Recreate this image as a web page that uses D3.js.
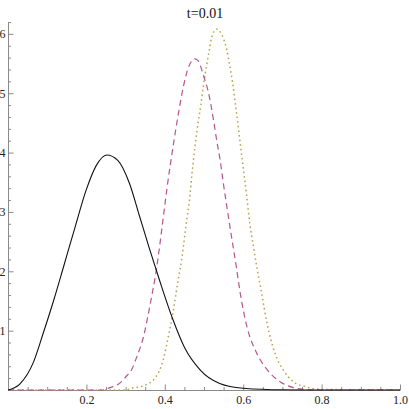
<!DOCTYPE html>
<html>
<head>
<meta charset="utf-8">
<script src="https://cdn.jsdelivr.net/npm/d3@7"></script>
<style>
  html, body { margin: 0; padding: 0; background: #fff; }
  svg { display: block; }
</style>
</head>
<body>
<div id="chart"></div>
<script>
// values
const title = "t=0.01";

const blackX = [0, 0.03, 0.065, 0.09, 0.116, 0.141, 0.17, 0.2, 0.225, 0.252, 0.28, 0.31, 0.335, 0.36, 0.388, 0.42, 0.45, 0.49, 0.54, 0.6, 0.7, 0.8, 1.0];
const blackY = [0, 0.1, 0.47, 0.96, 1.5, 2.06, 2.72, 3.38, 3.78, 3.96, 3.87, 3.48, 2.94, 2.4, 1.82, 1.2, 0.72, 0.34, 0.11, 0.03, 0.003, 0, 0];

const dashX = [0, 0.24, 0.26, 0.286, 0.303, 0.316, 0.328, 0.345, 0.362, 0.379, 0.396, 0.405, 0.422, 0.435, 0.447, 0.46, 0.477, 0.486, 0.498, 0.511, 0.524, 0.532, 0.541, 0.549, 0.558, 0.571, 0.583, 0.592, 0.609, 0.636, 0.66, 0.694, 0.728, 0.76, 0.8, 1.0];
const dashY = [0, 0, 0.04, 0.12, 0.24, 0.35, 0.55, 0.88, 1.42, 2.05, 2.9, 3.37, 4.14, 4.67, 5.1, 5.43, 5.58, 5.54, 5.31, 5.02, 4.56, 4.22, 3.88, 3.5, 3.1, 2.55, 2.05, 1.65, 1.08, 0.6, 0.35, 0.14, 0.04, 0.01, 0, 0];

const dotX = [0, 0.3, 0.316, 0.345, 0.375, 0.396, 0.409, 0.422, 0.434, 0.443, 0.456, 0.463, 0.469, 0.477, 0.486, 0.492, 0.498, 0.505, 0.513, 0.52, 0.532, 0.545, 0.558, 0.566, 0.573, 0.582, 0.592, 0.6, 0.609, 0.617, 0.626, 0.634, 0.647, 0.66, 0.681, 0.702, 0.728, 0.762, 0.8, 1.0];
const dotY = [0, 0, 0.03, 0.07, 0.2, 0.51, 0.9, 1.35, 1.85, 2.2, 2.87, 3.2, 3.62, 4.1, 4.55, 4.8, 5.11, 5.4, 5.71, 5.95, 6.08, 5.99, 5.73, 5.45, 5.17, 4.72, 4.18, 3.75, 3.26, 2.8, 2.42, 2.1, 1.63, 1.15, 0.62, 0.34, 0.14, 0.05, 0.01, 0];

const xMajor = [0.2, 0.4, 0.6, 0.8, 1.0];
const yMajor = [1, 2, 3, 4, 5, 6];

const width = 409;
const height = 409;
const margin = { top: 22, right: 9, bottom: 19, left: 8 };
const serif = "'Liberation Serif', 'DejaVu Serif', serif";

const svg = d3.select("#chart")
  .append("svg")
  .attr("width", width)
  .attr("height", height);

const x = d3.scaleLinear().domain([0, 1]).range([margin.left, width - margin.right]);
const y = d3.scaleLinear().domain([0, 6.2]).range([height - margin.bottom, margin.top]);

// minor ticks (no labels)
const xMinor = d3.range(0.05, 1.0001, 0.05).filter((v) => xMajor.every((m) => Math.abs(m - v) > 1e-6));
const yMinor = d3.range(0.2, 6.2001, 0.2).filter((v) => yMajor.every((m) => Math.abs(m - v) > 1e-6));

function styleAxis(g) {
  g.attr("font-family", serif).attr("font-size", 12);
  g.selectAll("path, line").attr("stroke", "#8a8a8a");
  g.selectAll("text").attr("fill", "#222");
}

svg.append("g")
  .attr("transform", `translate(0, ${y(0)})`)
  .call(d3.axisBottom(x).tickValues(xMinor).tickSize(-3).tickSizeOuter(0).tickFormat(""))
  .call(styleAxis);

svg.append("g")
  .attr("transform", `translate(0, ${y(0)})`)
  .call(d3.axisBottom(x).tickValues(xMajor).tickSize(-5.5).tickSizeOuter(0).tickPadding(5).tickFormat(d3.format(".1f")))
  .call((g) => g.select(".domain").remove())
  .call(styleAxis);

svg.append("g")
  .attr("transform", `translate(${x(0)}, 0)`)
  .call(d3.axisLeft(y).tickValues(yMinor).tickSize(-3).tickSizeOuter(0).tickFormat(""))
  .call(styleAxis);

svg.append("g")
  .attr("transform", `translate(${x(0)}, 0)`)
  .call(d3.axisLeft(y).tickValues(yMajor).tickSize(-5.5).tickSizeOuter(0).tickPadding(2.5).tickFormat(d3.format("d")))
  .call((g) => g.select(".domain").remove())
  .call(styleAxis);

const line = d3.line()
  .x((d) => x(d[0]))
  .y((d) => y(d[1]))
  .curve(d3.curveMonotoneX);

const series = [
  { xs: dotX, ys: dotY, color: "#b9a452", dash: "1.6,3", w: 1.5 },
  { xs: dashX, ys: dashY, color: "#b5578e", dash: "6,4", w: 1.2 },
  { xs: blackX, ys: blackY, color: "#111", dash: null, w: 1.1 },
];

series.forEach((s) => {
  svg.append("path")
    .datum(s.xs.map((v, i) => [v, s.ys[i]]))
    .attr("fill", "none")
    .attr("stroke", s.color)
    .attr("stroke-width", s.w)
    .attr("stroke-dasharray", s.dash)
    .attr("d", line);
});

svg.append("text")
  .attr("x", 205)
  .attr("y", 18)
  .attr("text-anchor", "middle")
  .attr("font-family", serif)
  .attr("font-size", 14)
  .attr("fill", "#111")
  .text(title);
</script>
</body>
</html>
